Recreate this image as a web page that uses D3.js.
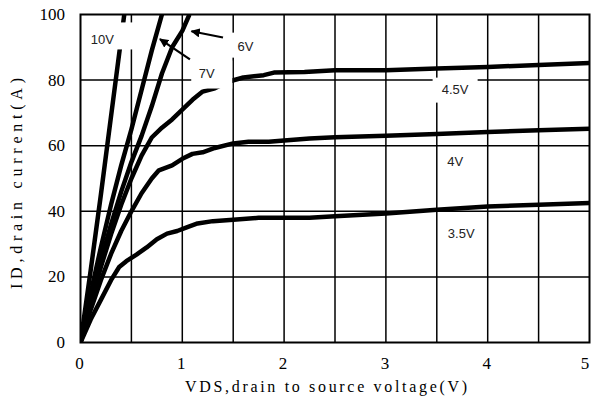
<!DOCTYPE html>
<html lang="en">
<head>
<meta charset="utf-8">
<title>ID - VDS</title>
<style>
  body { margin: 0; background: #fff; }
  svg { display: block; }
</style>
</head>
<body>
<svg width="592" height="417"></svg>
<script src="https://cdn.jsdelivr.net/npm/d3@7/dist/d3.min.js"></script>
<script>

    // output curves, [VDS (V), ID (A)]
    var vgs10 = [[0,0],[0.1,22],[0.2,45],[0.3,69],[0.43,100]];
    var vgs7 = [[0,0],[0.1,15],[0.2,29],[0.3,42],[0.4,54],[0.5,65],[0.6,77],[0.7,89],[0.8,100]];
    var vgs6 = [[0,0],[0.1,13],[0.2,25],[0.3,36],[0.4,46],[0.5,55],[0.6,63],[0.7,72],[0.8,82],
                [0.9,90],[1.0,95],[1.07,100]];
    var vgs45 = [[0,0],[0.1,12],[0.2,23],[0.3,33],[0.4,42],[0.5,50],[0.6,57],[0.7,62.5],[0.8,65.5],
                 [0.9,68],[1.0,71],[1.1,74],[1.2,76.5],[1.32,77.5],[1.45,79.5],[1.6,80.8],[1.8,81.5],
                 [1.9,82.3],[2.2,82.5],[2.5,83],[3.0,83],[3.5,83.5],[4.0,84],[4.5,84.6],[5.0,85.2]];
    var vgs4 = [[0,0],[0.1,10],[0.2,19],[0.3,27],[0.4,34],[0.5,40],[0.6,45.5],[0.7,50],[0.77,52.5],
                [0.9,54],[1.0,56],[1.1,57.5],[1.2,58],[1.32,59.3],[1.5,60.7],[1.65,61.2],[1.85,61.2],
                [2.0,61.6],[2.25,62.2],[2.5,62.6],[3.0,63],[3.5,63.6],[4.0,64.2],[4.5,64.7],[5.0,65.2]];
    var vgs35 = [[0,0],[0.1,7],[0.2,13],[0.3,19],[0.38,23],[0.45,24.8],[0.55,26.8],[0.65,29],[0.75,31.5],
                 [0.85,33.2],[0.95,34],[1.05,35.2],[1.15,36.3],[1.3,37],[1.5,37.4],[1.75,38],[2.0,38],
                 [2.25,38],[2.5,38.5],[3.0,39.3],[3.5,40.5],[4.0,41.5],[4.5,42],[5.0,42.5]];
    var curves = [vgs10, vgs7, vgs6, vgs45, vgs4, vgs35];

    var xTicks = [0, 1, 2, 3, 4, 5];
    var yTicks = [0, 20, 40, 60, 80, 100];
    var xGrid = d3.range(0.5, 5, 0.5);
    var yGrid = [20, 40, 60, 80];

    // curve labels: position in data units, white box edges in px around the text
    var labels = [
        {text: "10V",  x: 0.215, y: 92.4, box: [-18.5, -17, 31.5, 10]},
        {text: "6V",   x: 1.62,  y: 90.2, box: [-23.5, -14, 22.5, 11]},
        {text: "7V",   x: 1.24,  y: 82,   box: [-15.5, -13, 25.5, 15]},
        {text: "4.5V", x: 3.68,  y: 77.1, box: [-22.5, -12, 22.5, 13]},
        {text: "4V",   x: 3.68,  y: 55.1, box: null},
        {text: "3.5V", x: 3.74,  y: 33.1, box: null}
    ];
    var arrows = [
        {from: [1.40, 93], to: [1.09, 94.9]},
        {from: [1.075, 86.3], to: [0.78, 92.5]}
    ];

    var svg = d3.select("svg"),
        pLeft = 80.5, pRight = 589.5, pTop = 14.5, pBottom = 342.5;

    var x = d3.scaleLinear().domain([0, 5]).range([pLeft, pRight]);
    var y = d3.scaleLinear().domain([0, 100]).range([pBottom, pTop]);

    var defs = svg.append("defs");
    defs.append("clipPath").attr("id", "plot")
        .append("rect")
        .attr("x", pLeft).attr("y", pTop)
        .attr("width", pRight - pLeft).attr("height", pBottom - pTop);

    defs.append("marker")
        .attr("id", "head")
        .attr("viewBox", "0 0 10 10")
        .attr("refX", 9).attr("refY", 5)
        .attr("markerWidth", 4.2).attr("markerHeight", 4.2)
        .attr("markerUnits", "strokeWidth")
        .attr("orient", "auto")
        .append("path")
        .attr("d", "M0,0L10,5L0,10Z")
        .attr("fill", "#000");

    // grid
    svg.append("g").selectAll("line").data(xGrid).enter().append("line")
        .attr("x1", function(d) { return x(d); }).attr("x2", function(d) { return x(d); })
        .attr("y1", pTop).attr("y2", pBottom)
        .attr("stroke", "#000").attr("stroke-width", 1.5);
    svg.append("g").selectAll("line").data(yGrid).enter().append("line")
        .attr("y1", function(d) { return y(d); }).attr("y2", function(d) { return y(d); })
        .attr("x1", pLeft).attr("x2", pRight)
        .attr("stroke", "#000").attr("stroke-width", 1.5);

    var line = d3.line()
        .x(function(d) { return x(d[0]); })
        .y(function(d) { return y(d[1]); });

    svg.append("g").attr("clip-path", "url(#plot)")
        .selectAll("path").data(curves).enter().append("path")
        .attr("d", line)
        .attr("fill", "none")
        .attr("stroke", "#000")
        .attr("stroke-width", 4.5)
        .attr("stroke-linejoin", "round");

    // label boxes hide the grid and curves under them
    svg.append("g").selectAll("rect").data(labels.filter(function(d) { return d.box; }))
        .enter().append("rect")
        .attr("x", function(d) { return x(d.x) + d.box[0]; })
        .attr("y", function(d) { return y(d.y) + d.box[1]; })
        .attr("width", function(d) { return d.box[2] - d.box[0]; })
        .attr("height", function(d) { return d.box[3] - d.box[1]; })
        .attr("fill", "#fff");

    svg.append("g").selectAll("text").data(labels).enter().append("text")
        .attr("x", function(d) { return x(d.x); })
        .attr("y", function(d) { return y(d.y); })
        .attr("text-anchor", "middle")
        .attr("dominant-baseline", "central")
        .attr("font-family", "Liberation Sans, Arial, sans-serif")
        .attr("font-size", 13)
        .attr("fill", "#222")
        .text(function(d) { return d.text; });

    svg.append("g").selectAll("line").data(arrows).enter().append("line")
        .attr("x1", function(d) { return x(d.from[0]); })
        .attr("y1", function(d) { return y(d.from[1]); })
        .attr("x2", function(d) { return x(d.to[0]); })
        .attr("y2", function(d) { return y(d.to[1]); })
        .attr("stroke", "#000").attr("stroke-width", 2.2)
        .attr("marker-end", "url(#head)");

    // frame
    svg.append("rect")
        .attr("x", pLeft).attr("y", pTop)
        .attr("width", pRight - pLeft).attr("height", pBottom - pTop)
        .attr("fill", "none").attr("stroke", "#000").attr("stroke-width", 2);

    // tick labels
    svg.append("g").selectAll("text").data(xTicks).enter().append("text")
        .attr("x", function(d) { return Math.min(x(d) - 1, 585); })
        .attr("y", 363)
        .attr("text-anchor", "middle")
        .attr("dominant-baseline", "central")
        .attr("font-family", "Liberation Serif, serif")
        .attr("font-size", 17)
        .text(function(d) { return d; });
    svg.append("g").selectAll("text").data(yTicks).enter().append("text")
        .attr("x", 65)
        .attr("y", function(d) { return y(d); })
        .attr("text-anchor", "end")
        .attr("dominant-baseline", "central")
        .attr("font-family", "Liberation Serif, serif")
        .attr("font-size", 17)
        .text(function(d) { return d; });

    // axis titles
    svg.append("text")
        .attr("x", 185).attr("y", 386)
        .attr("dominant-baseline", "central")
        .attr("font-family", "Liberation Serif, serif")
        .attr("font-size", 16)
        .attr("textLength", 282).attr("lengthAdjust", "spacing")
        .text("VDS,drain to source voltage(V)");
    svg.append("text")
        .attr("transform", "translate(16,289) rotate(-90)")
        .attr("dominant-baseline", "central")
        .attr("font-family", "Liberation Serif, serif")
        .attr("font-size", 16)
        .attr("textLength", 211).attr("lengthAdjust", "spacing")
        .text("ID,drain current(A)");

</script>
</body>
</html>
